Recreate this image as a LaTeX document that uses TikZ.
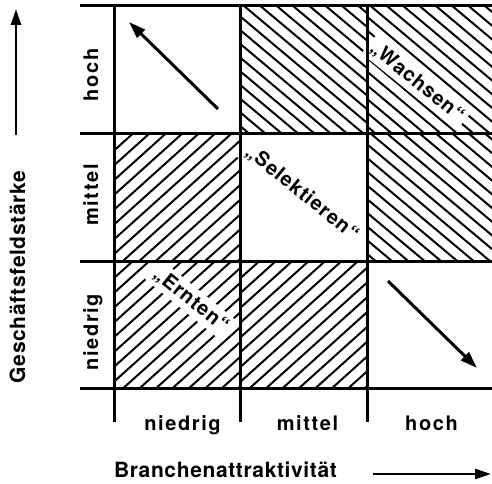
\documentclass[tikz,border=0pt]{standalone}
\usepackage{fontspec}
\setmainfont{TeX Gyre Heros}
\newfontfamily\widefont{TeX Gyre Heros}[LetterSpace=8]
\newfontfamily\stratfont{TeX Gyre Heros}[LetterSpace=5]
\newfontfamily\titlefont{TeX Gyre Heros}[LetterSpace=3]
\usetikzlibrary{positioning,arrows.meta}

\begin{document}
\begin{tikzpicture}[x=1pt, y=1pt, node distance=0pt,
    cell/.style={minimum width=126.5pt, minimum height=127.5pt, inner sep=0pt, outer sep=0pt},
    hatch/.style={line width=2pt},
    gridline/.style={line width=3pt},
    lvl/.style={font=\widefont\bfseries\fontsize{20}{24}\selectfont},
    title/.style={font=\titlefont\bfseries\fontsize{21}{25}\selectfont},
    strat/.style={font=\stratfont\bfseries\fontsize{20}{24}\selectfont, fill=white, inner sep=4pt, rotate=-39},
    move/.style={line width=3pt, -{Triangle[length=17pt, width=11pt]}},
    axis/.style={line width=2.5pt, -{Triangle[length=16pt, width=10pt]}}]
  \useasboundingbox (0,0) rectangle (492,483);
  % cells, rows hoch / mittel / niedrig
  \node[cell] (h1) at (177.25,413.25) {};
  \node[cell, right=of h1] (h2) {};
  \node[cell, right=of h2] (h3) {};
  \node[cell, below=of h1] (m1) {};
  \node[cell, right=of m1] (m2) {};
  \node[cell, right=of m2] (m3) {};
  \node[cell, below=of m1] (n1) {};
  \node[cell, right=of n1] (n2) {};
  \node[cell, right=of n2] (n3) {};
  % hatching
  \foreach \c/\a/\d in {h2/-40/10.5, h3/-40/10.5, m3/-40/10.5, m1/42/11, n1/42/11, n2/42/11} {
    \begin{scope}
      \clip (\c.south west) rectangle (\c.north east);
      \begin{scope}[shift={(\c.center)}, rotate=\a]
        \foreach \k in {-9,...,9}
          \draw[hatch] (-100,\k*\d) -- (100,\k*\d);
      \end{scope}
    \end{scope}
  }
  % strategies
  \node[strat] (wachsen) at (417,401) {„Wachsen“};
  \node[strat] (selekt) at (302,290) {„Selektieren“};
  \node[strat] (ernten) at (191,183) {„Ernten“};
  % grid
  \coordinate (lft) at (80,0);
  \coordinate (rgt) at (492,0);
  \coordinate (bot) at (0,61);
  \foreach \c in {h1,m1,n1}
    \draw[gridline] (\c.north west -| lft) -- (\c.north west -| rgt);
  \draw[gridline] (n1.south west -| lft) -- (n1.south west -| rgt);
  \foreach \c in {h1,h2,h3}
    \draw[gridline] (\c.north west) -- (\c.north west |- bot);
  % moves
  \coordinate (up1) at (218,374);
  \coordinate (up2) at (129,461);
  \draw[move] (up1) -- (up2);
  \coordinate (dn1) at (388,202);
  \coordinate (dn2) at (477,115);
  \draw[move] (dn1) -- (dn2);
  % levels
  \node[lvl, rotate=90, anchor=base] (yh) at (98,408) {hoch};
  \node[lvl, rotate=90, anchor=base] (ym) at (98,288) {mittel};
  \node[lvl, rotate=90, anchor=base] (yn) at (98,151) {niedrig};
  \node[lvl, anchor=base] (xn) at (182.5,53) {niedrig};
  \node[lvl, anchor=base] (xm) at (307.5,53) {mittel};
  \node[lvl, anchor=base] (xh) at (431.5,53) {hoch};
  % axes
  \node[title, anchor=base] (xtitle) at (225.5,6) {Branchenattraktivität};
  \node[title, rotate=90, anchor=base] (ytitle) at (25,206) {Geschäftsfeldstärke};
  \coordinate (xs) at (373,9);
  \coordinate (xe) at (491,9);
  \draw[axis] (xs) -- (xe);
  \coordinate (ys) at (16,348);
  \coordinate (ye) at (16,474);
  \draw[axis] (ys) -- (ye);
\end{tikzpicture}
\end{document}
